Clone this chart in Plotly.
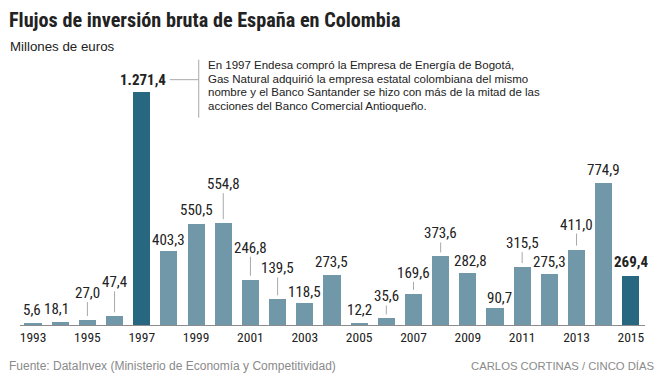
import plotly.graph_objects as go

# ---------------- data ----------------
years = list(range(1993, 2016))
values = [5.6, 18.1, 27.0, 47.4, 1271.4, 403.3, 550.5, 554.8, 246.8, 139.5, 118.5,
          273.5, 12.2, 35.6, 169.6, 373.6, 282.8, 90.7, 315.5, 275.3, 411.0, 774.9, 269.4]
highlight_years = [1997, 2015]
tick_years = list(range(1993, 2016, 2))
tick_labels = [str(y) for y in tick_years]

title_text = "Flujos de inversión bruta de España en Colombia"
subtitle_text = "Millones de euros"
note_lines = [
    "En 1997 Endesa compró la Empresa de Energía de Bogotá,",
    "Gas Natural adquirió la empresa estatal colombiana del mismo",
    "nombre y el Banco Santander se hizo con más de la mitad de las",
    "acciones del Banco Comercial Antioqueño.",
]
source_text = "Fuente: DataInvex (Ministerio de Economía y Competitividad)"
credit_text = "CARLOS CORTINAS / CINCO DÍAS"

# ---------------- styling ----------------
OFF = 8                      # page body margin of the browser
W_FIG, H_FIG = 664 - OFF, 377 - OFF
L, R, T, B = 20 - OFF, 19, 40 - OFF, 52
PW, PH = W_FIG - L - R, H_FIG - T - B
LIGHT = "#7098a9"
DARK = "#27677f"
LEADER = "#a8a8a8"
TEXT = "#222222"
COND = "Roboto Condensed, DejaVu Sans Condensed, sans-serif"
SANS = "Liberation Sans, Arial, sans-serif"

# label lift above bar top (pixels) and leader-line flags
label_lift = {1993: 14, 1994: 13, 1995: 27, 1996: 34, 1997: 12, 1998: 11, 1999: 14,
              2000: 39, 2001: 32, 2002: 31, 2003: 11, 2004: 13, 2005: 13, 2006: 22,
              2007: 21, 2008: 23, 2009: 12, 2010: 10, 2011: 24, 2012: 12, 2013: 25,
              2014: 13, 2015: 14}
label_xshift = {1993: -1, 1994: -4, 2009: 3, 2010: 4}
leader_years = [1995, 1996, 2000, 2001, 2002, 2006, 2007, 2008, 2011, 2013]


def px(x):
    """screen pixel x -> paper"""
    return (x - OFF - L) / PW


def py(y):
    """screen pixel y -> paper"""
    return (H_FIG - B - (y - OFF)) / PH


def fmt(v):
    s = f"{v:,.1f}"
    return s.replace(",", "X").replace(".", ",").replace("X", ".")


colors = [DARK if y in highlight_years else LIGHT for y in years]

fig = go.Figure()
fig.add_trace(go.Bar(x=years, y=values, marker=dict(color=colors, line=dict(width=0)),
                     width=0.63, hoverinfo="skip"))

annotations = []
shapes = []

for y, v in zip(years, values):
    bold = y in highlight_years
    txt = f"<b>{fmt(v)}</b>" if bold else fmt(v)
    if y == 1997:
        annotations.append(dict(x=y, y=v, xref="x", yref="y", text=txt, showarrow=False,
                                xanchor="right", yanchor="middle", xshift=26,
                                yshift=label_lift[y],
                                font=dict(family=COND, size=15, color=TEXT)))
        # horizontal leader to note bracket
        shapes.append(dict(type="line", xref="x", yref="y", xsizemode="pixel",
                           ysizemode="pixel", xanchor=y, yanchor=v, x0=28, x1=57,
                           y0=label_lift[y], y1=label_lift[y],
                           line=dict(color=LEADER, width=1)))
        shapes.append(dict(type="line", xref="x", yref="y", xsizemode="pixel",
                           ysizemode="pixel", xanchor=y, yanchor=v, x0=57, x1=57,
                           y0=32, y1=-26, line=dict(color=LEADER, width=1)))
        continue
    annotations.append(dict(x=y, y=v, xref="x", yref="y", text=txt, showarrow=False,
                            xanchor="center", yanchor="middle",
                            xshift=label_xshift.get(y, 0), yshift=label_lift[y],
                            font=dict(family=COND, size=15, color=TEXT)))
    if y in leader_years:
        shapes.append(dict(type="line", xref="x", yref="y", ysizemode="pixel",
                           yanchor=v, x0=y, x1=y, y0=4, y1=label_lift[y] - 9,
                           line=dict(color=LEADER, width=1)))

# note text, one annotation per line
note_x = 207
for i, line in enumerate(note_lines):
    annotations.append(dict(x=px(note_x), y=py(65 + i * 13.7), xref="paper", yref="paper",
                            text=line, showarrow=False, xanchor="left", yanchor="middle",
                            xshift=-1,
                            font=dict(family=SANS, size=11.5, color=TEXT)))

annotations += [
    dict(x=px(7), y=py(20), xref="paper", yref="paper", text=f"<b>{title_text}</b>",
         showarrow=False, xanchor="left", yanchor="middle",
         font=dict(family=COND, size=20.2, color=TEXT)),
    dict(x=px(8), y=py(47), xref="paper", yref="paper", text=subtitle_text,
         showarrow=False, xanchor="left", yanchor="middle",
         font=dict(family=SANS, size=13.3, color=TEXT)),
    dict(x=px(7), y=py(366), xref="paper", yref="paper", text=source_text,
         showarrow=False, xanchor="left", yanchor="middle",
         font=dict(family=SANS, size=12, color="#8a8a8a")),
    dict(x=px(657), y=py(366), xref="paper", yref="paper", text=credit_text,
         showarrow=False, xanchor="right", yanchor="middle",
         font=dict(family=SANS, size=11.3, color="#8a8a8a")),
]

fig.update_layout(
    width=W_FIG, height=H_FIG,
    margin=dict(l=L, r=R, t=T, b=B, pad=0),
    paper_bgcolor="white", plot_bgcolor="white",
    showlegend=False,
    bargap=0,
    xaxis=dict(range=[1992.52, 2015.52], tickmode="array", tickvals=tick_years,
               ticktext=tick_labels, showgrid=False, zeroline=False,
               showline=True, linecolor="#8c8c8c", linewidth=1, ticks="",
               tickfont=dict(family=COND, size=13.5, color=TEXT), fixedrange=True),
    yaxis=dict(range=[0, 1553], visible=False, showgrid=False, fixedrange=True),
    annotations=annotations,
    shapes=shapes,
)

fig.write_html("out.html")
